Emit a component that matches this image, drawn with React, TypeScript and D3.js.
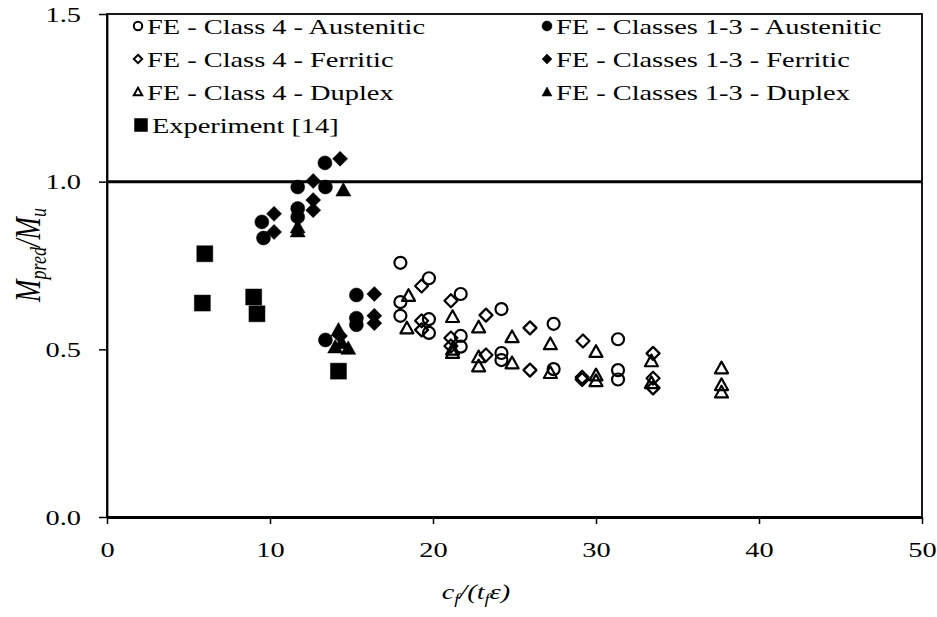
import React, { useEffect, useRef } from 'react';
import * as d3 from 'd3';

// FE - Class 4 (open markers)
const class4Austenitic = [
  [18.0, 0.758], [19.75, 0.712], [18.0, 0.641], [21.7, 0.665], [18.0, 0.6],
  [19.75, 0.59], [19.75, 0.549], [24.2, 0.62], [21.7, 0.54], [21.7, 0.508],
  [27.4, 0.576], [24.2, 0.489], [24.2, 0.468], [27.4, 0.441], [31.35, 0.53],
  [31.35, 0.438], [31.35, 0.41],
];
const class4Ferritic = [
  [19.3, 0.689], [21.1, 0.645], [19.3, 0.585], [19.3, 0.558], [23.25, 0.602],
  [21.1, 0.534], [21.1, 0.51], [25.95, 0.564], [23.25, 0.483], [25.95, 0.438],
  [29.2, 0.525], [29.15, 0.417], [29.15, 0.41], [33.5, 0.488], [33.5, 0.414],
  [33.5, 0.385],
];
const class4Duplex = [
  [18.5, 0.66], [21.2, 0.597], [18.4, 0.563], [22.8, 0.566], [21.2, 0.5],
  [21.2, 0.49], [24.85, 0.537], [27.2, 0.516], [24.85, 0.459], [22.8, 0.477],
  [22.8, 0.45], [27.2, 0.43], [30.0, 0.493], [30.0, 0.423], [30.0, 0.406],
  [33.4, 0.465], [33.4, 0.4], [37.7, 0.444], [37.7, 0.394], [37.7, 0.372],
];
// FE - Classes 1-3 (filled markers)
const class13Austenitic = [
  [9.5, 0.88], [9.6, 0.832], [11.7, 0.984], [11.7, 0.92], [11.7, 0.895],
  [13.37, 1.056], [13.4, 0.984], [13.4, 0.528], [15.3, 0.662], [15.3, 0.593],
  [15.3, 0.573],
];
const class13Ferritic = [
  [10.25, 0.904], [10.25, 0.85], [12.65, 1.002], [12.65, 0.945], [12.65, 0.915],
  [14.3, 1.068], [14.3, 0.54], [16.4, 0.665], [16.4, 0.6], [16.4, 0.578],
];
const class13Duplex = [
  [11.7, 0.865], [11.7, 0.853], [14.5, 0.975], [14.2, 0.558], [14.0, 0.507],
  [14.8, 0.503], [14.4, 0.52],
];
const experiment = [
  [6.0, 0.785], [5.85, 0.638], [9.0, 0.656], [9.2, 0.606], [14.2, 0.435],
];

const xTicks = [0, 10, 20, 30, 40, 50];
const yTicks = [0, 0.5, 1.0, 1.5];

const series = [
  { name: 'FE - Class 4 - Austenitic', data: class4Austenitic, shape: 'circle', filled: false, col: 0, row: 0 },
  { name: 'FE - Class 4 - Ferritic', data: class4Ferritic, shape: 'diamond', filled: false, col: 0, row: 1 },
  { name: 'FE - Class 4 - Duplex', data: class4Duplex, shape: 'triangle', filled: false, col: 0, row: 2 },
  { name: 'Experiment [14]', data: experiment, shape: 'square', filled: true, col: 0, row: 3 },
  { name: 'FE - Classes 1-3 - Austenitic', data: class13Austenitic, shape: 'circle', filled: true, col: 1, row: 0 },
  { name: 'FE - Classes 1-3 - Ferritic', data: class13Ferritic, shape: 'diamond', filled: true, col: 1, row: 1 },
  { name: 'FE - Classes 1-3 - Duplex', data: class13Duplex, shape: 'triangle', filled: true, col: 1, row: 2 },
];

const FONT = '"Liberation Serif", "Times New Roman", serif';
// the reference text is drawn wider than plain Times
const STRETCH = 1.29;

function markerPath(shape, s) {
  if (shape === 'circle') {
    return d3.symbol().type(d3.symbolCircle).size(Math.PI * s * s)();
  }
  if (shape === 'square') {
    return `M${-s},${-s}H${s}V${s}H${-s}Z`;
  }
  if (shape === 'diamond') {
    return `M0,${-s}L${s},0L0,${s}L${-s},0Z`;
  }
  return `M0,${-s}L${s},${s * 0.8}L${-s},${s * 0.8}Z`;
}

function App() {
  const ref = useRef(null);

  useEffect(() => {
    const W = 937;
    const H = 617;
    const margin = { top: 14, right: 15, bottom: 100, left: 107 };
    const width = W - margin.left - margin.right;
    const height = H - margin.top - margin.bottom;

    d3.select(ref.current).selectAll('*').remove();

    const svg = d3
      .select(ref.current)
      .append('svg')
      .attr('width', W)
      .attr('height', H)
      .style('position', 'absolute')
      .style('left', '0px')
      .style('top', '0px')
      .style('background', 'white');

    const g = svg.append('g').attr('transform', `translate(${margin.left},${margin.top})`);

    const x = d3.scaleLinear().domain([0, 50]).range([0, width]);
    const y = d3.scaleLinear().domain([0, 1.5]).range([height, 0]);

    // plot border
    g.append('rect')
      .attr('width', width)
      .attr('height', height)
      .attr('fill', 'none')
      .attr('stroke', '#000')
      .attr('stroke-width', 1.8);

    // x axis
    const xAxis = g
      .append('g')
      .attr('transform', `translate(0,${height})`)
      .call(d3.axisBottom(x).tickValues(xTicks).tickSize(7).tickSizeOuter(0).tickFormat(d3.format('d')));
    xAxis.select('.domain').attr('stroke-width', 3);
    xAxis.selectAll('line').attr('stroke-width', 1.5);
    xAxis
      .selectAll('text')
      .attr('font-family', FONT)
      .attr('font-size', 22)
      .attr('fill', '#000')
      .attr('y', 24)
      .attr('dy', '0.71em')
      .attr('transform', `scale(${STRETCH},1)`);

    // y axis
    const yAxis = g
      .append('g')
      .call(d3.axisLeft(y).tickValues(yTicks).tickSize(8).tickSizeOuter(0).tickFormat(d3.format('.1f')));
    yAxis.select('.domain').attr('stroke-width', 1.8);
    yAxis.selectAll('line').attr('stroke-width', 1.5);
    yAxis
      .selectAll('text')
      .attr('font-family', FONT)
      .attr('font-size', 22)
      .attr('fill', '#000')
      .attr('x', -26 / STRETCH)
      .attr('transform', `scale(${STRETCH},1)`);

    // reference line at 1.0
    g.append('line')
      .attr('x1', 0)
      .attr('x2', width)
      .attr('y1', y(1))
      .attr('y2', y(1))
      .attr('stroke', '#000')
      .attr('stroke-width', 3);

    // points
    series.forEach((s) => {
      const half = s.shape === 'square' ? 8 : s.shape === 'circle' ? 7 : 7.5;
      g.append('g')
        .selectAll('path')
        .data(s.data)
        .enter()
        .append('path')
        .attr('transform', (d) => `translate(${x(d[0])},${y(d[1])})`)
        .attr('d', markerPath(s.shape, s.filled ? half : half - 1))
        .attr('fill', s.filled ? '#000' : 'none')
        .attr('stroke', '#000')
        .attr('stroke-width', s.filled ? 0.5 : 2.2)
        .attr('stroke-linejoin', 'round');
    });

    // legend
    const legend = svg.append('g').attr('font-family', FONT).attr('font-size', 22);
    const colX = [138, 547];
    const rowY = [26, 59, 92, 125];
    series.forEach((s) => {
      const mx = colX[s.col] + (s.shape === 'square' ? 3 : 0);
      const my = rowY[s.row];
      const half = s.shape === 'square' ? 6.5 : 5;
      legend
        .append('path')
        .attr('transform', `translate(${mx},${my})`)
        .attr('d', markerPath(s.shape, s.filled ? half : half - 0.8))
        .attr('fill', s.filled ? '#000' : 'none')
        .attr('stroke', '#000')
        .attr('stroke-width', s.filled ? 0.5 : 2);
      legend
        .append('text')
        .attr('transform', `translate(${mx + (s.shape === 'square' ? 11 : 9)},${my + 7.5}) scale(${STRETCH},1)`)
        .text(s.name);
    });

    // x title c_f/(t_f ε)
    const xt = svg
      .append('text')
      .attr('transform', `translate(476,599) scale(${STRETCH},1)`)
      .attr('text-anchor', 'middle')
      .attr('font-family', FONT)
      .attr('font-size', 22)
      .attr('font-style', 'italic');
    xt.append('tspan').text('c');
    xt.append('tspan').attr('font-size', 14).attr('dy', 5).text('f');
    xt.append('tspan').attr('dy', -5).text('/(t');
    xt.append('tspan').attr('font-size', 14).attr('dy', 5).text('f');
    xt.append('tspan').attr('dy', -5).text('ε)');

    // y title M_pred/M_u
    const yt = svg
      .append('text')
      .attr('transform', `translate(40,255) rotate(-90) scale(1,${STRETCH})`)
      .attr('text-anchor', 'middle')
      .attr('font-family', FONT)
      .attr('font-size', 27)
      .attr('font-style', 'italic');
    yt.append('tspan').text('M');
    yt.append('tspan').attr('font-size', 18).attr('dy', 5).text('pred');
    yt.append('tspan').attr('dy', -5).text('/M');
    yt.append('tspan').attr('font-size', 18).attr('dy', 5).text('u');
  }, []);

  return <div ref={ref} />;
}

export default App;
